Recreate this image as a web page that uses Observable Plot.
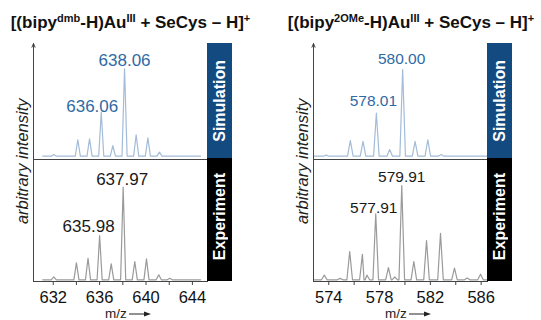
<!DOCTYPE html>
<html><head><meta charset="utf-8">
<script src="https://cdn.jsdelivr.net/npm/d3@7"></script>
<script src="https://cdn.jsdelivr.net/npm/@observablehq/plot@0.6"></script>
<style>
body{margin:0;background:#fff;font-family:"Liberation Sans",Arial,sans-serif;}
#root{position:relative;width:541px;height:320px;overflow:hidden;background:#fff;}
.abs{position:absolute;}
.title{position:absolute;width:300px;text-align:center;font-weight:bold;font-size:17px;line-height:20px;color:#111;white-space:nowrap;}
.title sup{font-size:11px;vertical-align:baseline;position:relative;top:-6px;line-height:0;}
.ylab{position:absolute;width:200px;text-align:center;font-style:italic;font-size:16.5px;line-height:16.5px;color:#222;transform:rotate(-90deg);white-space:nowrap;}
.bar{position:absolute;width:25px;display:flex;align-items:center;justify-content:center;}
.bar span{writing-mode:vertical-rl;transform:rotate(180deg);color:#fff;font-weight:bold;font-size:16px;white-space:nowrap;}
.xlab{position:absolute;font-size:13.5px;line-height:13px;color:#222;white-space:nowrap;}
.xlab svg{vertical-align:middle;margin-left:2px;}
</style></head>
<body><div id="root"></div>
<script>
// ---- data ----
const titlesHTML = [
  "[(bipy<sup>dmb</sup>-H)Au<sup>III</sup> + SeCys – H]<sup>+</sup>",
  "[(bipy<sup>2OMe</sup>-H)Au<sup>III</sup> + SeCys – H]<sup>+</sup>"
];
const yLabel = "arbitrary intensity";
const xLabel = "m/z";
const barLabels = ["Simulation", "Experiment"];

const leftDomain = [630.3, 645.3];
const leftRange = [631.1, 644.7];
const leftTicks = [632, 634, 636, 638, 640, 642, 644];
const leftTickLabels = [632, 636, 640, 644];
const leftSimMz  = [632.05, 634.12, 635.13, 636.14, 637.14, 638.15, 639.15, 640.16, 641.16];
const leftSimInt = [1.9, 18.8, 19.9, 50.3, 12.2, 100, 24.5, 21, 4.6];
const leftExpMz  = [632.05, 634.0, 635.0, 636.0, 637.0, 638.03, 639.03, 640.04, 641.1, 642.05];
const leftExpInt = [3.2, 18.4, 23.3, 47.8, 17.3, 100, 19.8, 22.7, 5.4, 1.6];
const leftSimLabels = [{mz: 638.15, i: 100, t: "638.06", dx: 0, dy: -3}, {mz: 636.14, i: 50.3, t: "636.06", dx: -9, dy: 0}];
const leftExpLabels = [{mz: 638.03, i: 100, t: "637.97", dx: -1, dy: -2}, {mz: 636.0, i: 47.8, t: "635.98", dx: -11, dy: -4}];

const rightDomain = [572.8, 586.5];
const rightRange = [572.85, 586.45];
const rightTicks = [574, 576, 578, 580, 582, 584, 586];
const rightTickLabels = [574, 578, 582, 586];
const rightSimMz  = [573.8, 575.7, 576.7, 577.75, 578.8, 579.82, 580.8, 581.8, 582.85];
const rightSimInt = [1.2, 18, 17, 49.6, 7.7, 100, 17, 19, 2];
const rightExpMz  = [573.65, 574.9, 575.65, 576.65, 577.0, 577.7, 578.7, 579.2, 579.75, 580.7, 581.7, 582.8, 583.9, 584.9, 585.95];
const rightExpInt = [5, 1.5, 30, 27, 5, 70, 13, 3, 100, 19.4, 41.7, 49.4, 12.3, 2, 6];
const rightSimLabels = [{mz: 579.82, i: 100, t: "580.00", dx: -1, dy: -6}, {mz: 577.75, i: 49.6, t: "578.01", dx: -3, dy: -7}];
const rightExpLabels = [{mz: 579.75, i: 100, t: "579.91", dx: 0, dy: -4}, {mz: 577.7, i: 70, t: "577.91", dx: -2, dy: -1}];

// ---- styles ----
const SIM_LINE = "#a3bcd8", SIM_TEXT = "#2f6aa5", EXP_LINE = "#9a9a9a", EXP_TEXT = "#1a1a1a";
const AXIS = "#444", BLUE = "#134a80";
const FONT = "Liberation Sans, Arial, sans-serif";

function spectrum(mz, inten, range, w) {
  const pts = [{x: range[0], y: 0}];
  mz.forEach((m, k) => pts.push({x: m - w, y: 0}, {x: m, y: inten[k]}, {x: m + w, y: 0}));
  pts.push({x: range[1], y: 0});
  return pts.sort((a, b) => a.x - b.x);
}

function labelMarks(labels, fill, size) {
  return labels.map(l => Plot.text([l], {x: "mz", y: "i", text: "t", dx: l.dx, dy: l.dy, lineAnchor: "bottom",
    textAnchor: "middle", fill, fontSize: size, fontFamily: FONT}));
}

function topPanel(domain, range, mz, inten, yDom, labels, size) {
  return Plot.plot({
    width: 240, height: 160, marginLeft: 33, marginRight: 33, marginTop: 43, marginBottom: 1,
    x: {domain, axis: null}, y: {domain: yDom, axis: null},
    style: {background: "transparent", overflow: "visible", fontFamily: FONT},
    marks: [
      Plot.line(spectrum(mz, inten, range, 0.22), {x: "x", y: "y", stroke: SIM_LINE, strokeWidth: 1.2}),
      Plot.arrow([0], {x1: domain[0], x2: domain[0], y1: yDom[0], y2: yDom[1], stroke: AXIS, strokeWidth: 1, headLength: 6, headAngle: 45}),
      ...labelMarks(labels, SIM_TEXT, size)
    ]
  });
}

function bottomPanel(domain, range, mz, inten, yDom, labels, size, ticks, tickLabels) {
  return Plot.plot({
    width: 240, height: 162, marginLeft: 33, marginRight: 33, marginTop: 1, marginBottom: 39,
    x: {domain}, y: {domain: yDom, axis: null},
    style: {background: "transparent", overflow: "visible", fontFamily: FONT},
    marks: [
      Plot.line(spectrum(mz, inten, range, 0.22), {x: "x", y: "y", stroke: EXP_LINE, strokeWidth: 1.2}),
      Plot.frame({stroke: AXIS, strokeWidth: 1}),
      Plot.axisX({ticks, tickFormat: d => tickLabels.includes(d) ? String(d) : "", tickSize: 4, tickPadding: 6,
        fontSize: 16.5, label: null, stroke: AXIS, fill: "#111"}),
      ...labelMarks(labels, EXP_TEXT, size)
    ]
  });
}

const root = document.getElementById("root");
function place(el, left, top) {
  const d = document.createElement("div");
  d.className = "abs"; d.style.left = left + "px"; d.style.top = top + "px";
  d.appendChild(el); root.appendChild(d);
}
function html(cls, style, inner) {
  const d = document.createElement("div");
  d.className = cls; d.setAttribute("style", style); d.innerHTML = inner; root.appendChild(d);
}

place(topPanel(leftDomain, leftRange, leftSimMz, leftSimInt, [-3.8, 129], leftSimLabels, 17), 0, 0);
place(bottomPanel(leftDomain, leftRange, leftExpMz, leftExpInt, [-1.8, 129.9], leftExpLabels, 17, leftTicks, leftTickLabels), 0, 158);
place(topPanel(rightDomain, rightRange, rightSimMz, rightSimInt, [-3.8, 130], rightSimLabels, 15.5), 280, 0);
place(bottomPanel(rightDomain, rightRange, rightExpMz, rightExpInt, [-1.8, 127.6], rightExpLabels, 15.5, rightTicks, rightTickLabels), 280, 158);

const cols = [0, 280];
const titleCenters = [130.5, 411];
const arrowSvg = '<svg width="22" height="8" viewBox="0 0 22 8"><line x1="0" y1="4" x2="17" y2="4" stroke="#222" stroke-width="1"/><polygon points="22,4 15,1.5 15,6.5" fill="#222"/></svg>';
cols.forEach((off, k) => {
  html("title", `left:${titleCenters[k] - 150}px;top:13px`, titlesHTML[k]);
  html("ylab", `left:${off + 22.3 - 100}px;top:${161 - 8.25}px`, yLabel);
  html("bar", `left:${off + 207}px;top:43px;height:115px;background:${BLUE}`, `<span>${barLabels[0]}</span>`);
  html("bar", `left:${off + 207}px;top:158px;height:123px;background:#000`, `<span style="position:relative;top:-3px">${barLabels[1]}</span>`);
  html("xlab", `left:${off + 105}px;top:307px`, xLabel + arrowSvg);
});
</script></body></html>
